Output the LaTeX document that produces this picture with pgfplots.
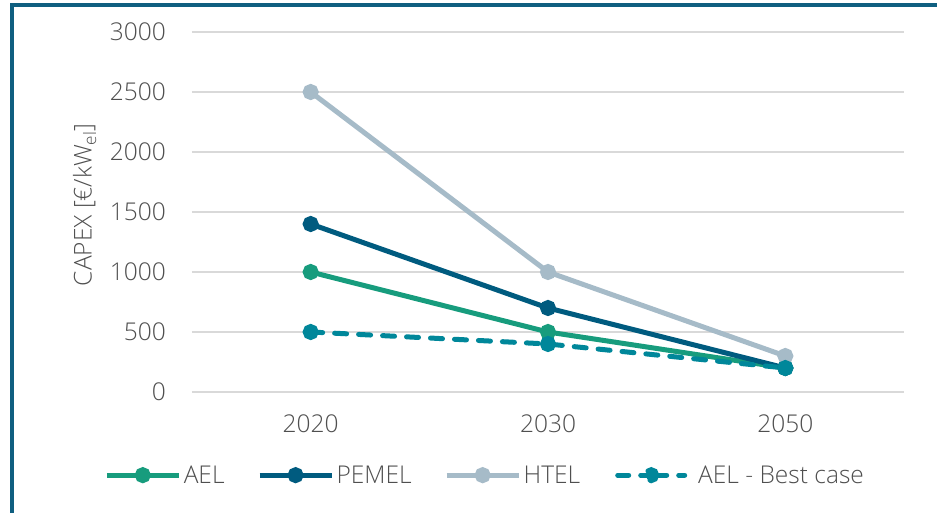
\documentclass[border=0pt]{standalone}
\usepackage{pgfplots}
\pgfplotsset{compat=1.18}
\usepackage{fontspec}
\setmainfont{Open Sans Light}
\definecolor{aelc}{HTML}{179C7D}
\definecolor{pemc}{HTML}{005B7F}
\definecolor{htec}{HTML}{A6BBC8}
\definecolor{bestc}{HTML}{00879A}
\definecolor{framec}{HTML}{0F5F80}
\definecolor{gridc}{HTML}{D9D9D9}
\definecolor{textc}{HTML}{4F4F4F}
\newcommand{\bigf}{\fontsize{24.5}{29}\selectfont}
\begin{document}
\begin{tikzpicture}
\useasboundingbox (-192pt,-121pt) rectangle (745pt,392pt);
\draw[framec, line width=4pt] (-180pt,-130pt) -- (-180pt,387pt) -- (750pt,387pt);
\begin{axis}[
  at={(0pt,0pt)}, anchor=south west,
  scale only axis, width=712pt, height=360pt,
  xmin=-0.5, xmax=2.5, ymin=0, ymax=3000,
  xtick={0,1,2}, xticklabels={2020,2030,2050},
  ytick={0,500,...,3000},
  axis line style={draw=none}, major tick length=0pt,
  ymajorgrids, grid style={color=gridc, line width=1.5pt},
  tick label style={font=\bigf, color=textc},
  /pgf/number format/assume math mode=true,
  /pgf/number format/1000 sep={},
  yticklabel style={anchor=east, inner sep=0pt, xshift=-26pt},
  xticklabel style={anchor=north, inner sep=0pt, yshift=-23pt},
  ylabel={CAPEX [€/kW\textsubscript{el}]},
  ylabel style={at={(axis description cs:-0.141,0.52)}, anchor=base, font=\bigf, color=textc, inner sep=0pt},
  clip=false,
  legend columns=4,
  legend style={at={(0.412,-0.231)}, anchor=center, draw=none, fill=none,
    font=\bigf, text=textc, nodes={inner sep=2.5pt},
    /tikz/every even column/.append style={column sep=30pt}},
  legend image code/.code={\draw[mark repeat=2,mark phase=2,#1] plot coordinates {(0pt,0pt) (36pt,0pt) (72pt,0pt)};},
  every axis plot/.append style={line width=5pt, mark=*, mark size=5.5pt, mark options={solid}},
]
\addplot[color=aelc] coordinates {(0,1000) (1,500) (2,200)};
\addlegendentry{AEL}
\addplot[color=pemc] coordinates {(0,1400) (1,700) (2,200)};
\addlegendentry{PEMEL}
\addplot[color=htec] coordinates {(0,2500) (1,1000) (2,300)};
\addlegendentry{HTEL}
\addplot[color=bestc, line cap=round, dash pattern=on 12pt off 12pt,
  legend image code/.code={\path (0pt,0pt) (78pt,0pt); \draw[bestc, line width=5pt, line cap=round, dash pattern=on 11pt off 12pt on 26pt off 12pt on 11pt] (2.5pt,0pt) -- (69.5pt,0pt); \fill[bestc] (36pt,0pt) circle (5.5pt);}]
  coordinates {(0,500) (1,400) (2,200)};
\addlegendentry{AEL - Best case}
\end{axis}
\end{tikzpicture}
\end{document}
